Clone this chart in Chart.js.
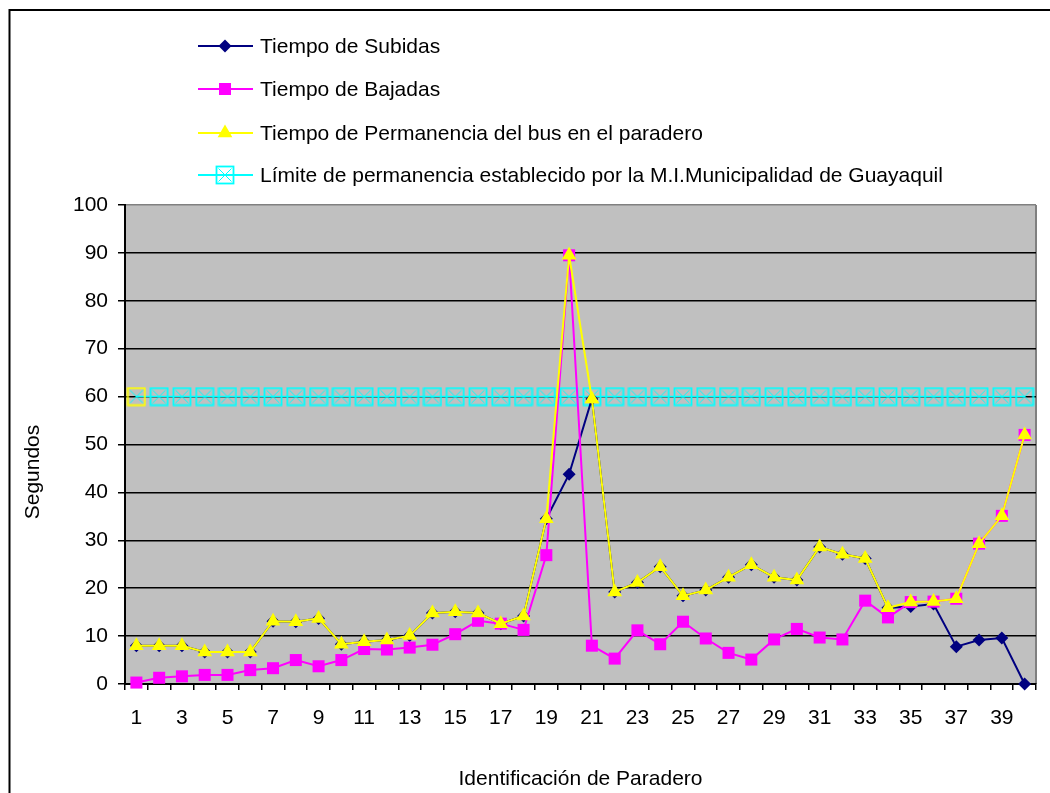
<!DOCTYPE html>
<html>
<head>
<meta charset="utf-8">
<script src="https://cdn.jsdelivr.net/npm/chart.js@4/dist/chart.umd.min.js"></script>
<style>
  body { margin: 0; background: #fff; }
  canvas { display: block; }
</style>
</head>
<body>
<canvas id="myChart" width="1050" height="793"></canvas>
<script>
const paraderos = ['1', '2', '3', '4', '5', '6', '7', '8', '9', '10',
    '11', '12', '13', '14', '15', '16', '17', '18', '19', '20',
    '21', '22', '23', '24', '25', '26', '27', '28', '29', '30',
    '31', '32', '33', '34', '35', '36', '37', '38', '39', '40'];

const subidas = [8.0, 8.0, 8.0, 6.7, 6.7, 6.7, 13.1, 13.0, 13.7, 8.3,
    8.8, 9.2, 10.1, 14.8, 15.1, 14.8, 12.6, 14.2, 34.5, 43.8,
    59.5, 19.2, 21.2, 24.5, 18.4, 19.6, 22.3, 24.9, 22.3, 21.7,
    28.6, 27.1, 26.2, 15.9, 16.2, 16.7, 7.8, 9.2, 9.6, 0];

const bajadas = [0.3, 1.3, 1.6, 1.9, 1.9, 2.9, 3.3, 5.0, 3.7, 5.0,
    7.3, 7.2, 7.6, 8.2, 10.4, 13.2, 12.6, 11.3, 26.9, 89.5,
    8.0, 5.3, 11.2, 8.3, 13.0, 9.5, 6.5, 5.1, 9.3, 11.5,
    9.7, 9.3, 17.4, 13.9, 17.1, 17.2, 17.8, 29.3, 35.1, 52.0];

const permanencia = [8.0, 8.0, 8.0, 6.7, 6.7, 6.7, 13.1, 13.0, 13.7, 8.3,
    8.8, 9.2, 10.1, 14.8, 15.1, 14.8, 12.6, 14.2, 34.5, 89.5,
    59.5, 19.2, 21.2, 24.5, 18.4, 19.6, 22.3, 24.9, 22.3, 21.7,
    28.6, 27.1, 26.2, 15.9, 17.1, 17.2, 17.8, 29.3, 35.1, 52.0];

const limite = [60, 60, 60, 60, 60, 60, 60, 60, 60, 60,
    60, 60, 60, 60, 60, 60, 60, 60, 60, 60,
    60, 60, 60, 60, 60, 60, 60, 60, 60, 60,
    60, 60, 60, 60, 60, 60, 60, 60, 60, 60];

const yTicks = [0, 10, 20, 30, 40, 50, 60, 70, 80, 90, 100];

const FONT = "'Liberation Sans', Arial, sans-serif";
const FSIZE = 21;

// cuadro con X para la serie del limite
function boxX(borderColor) {
    const c = document.createElement('canvas');
    c.width = 20;
    c.height = 20;
    const g = c.getContext('2d');
    g.strokeStyle = borderColor;
    g.lineWidth = 1.8;
    g.strokeRect(1.5, 1.5, 17, 17);
    g.strokeStyle = '#00FFFF';
    g.lineWidth = 1;
    g.beginPath();
    g.moveTo(3.5, 3.5); g.lineTo(16.5, 16.5);
    g.moveTo(16.5, 3.5); g.lineTo(3.5, 16.5);
    g.stroke();
    return c;
}
const boxCyan = boxX('#00FFFF');
const boxYellow = boxX('#FFFF00');

function drawMarker(ctx, style, x, y, r, color) {
    ctx.save();
    ctx.fillStyle = color;
    ctx.strokeStyle = color;
    ctx.beginPath();
    if (style === 'rectRot') {
        ctx.moveTo(x, y - r); ctx.lineTo(x + r, y); ctx.lineTo(x, y + r); ctx.lineTo(x - r, y);
        ctx.closePath(); ctx.fill();
    } else if (style === 'rect') {
        const s = r * Math.SQRT1_2;
        ctx.rect(x - s, y - s, 2 * s, 2 * s); ctx.fill();
    } else if (style === 'triangle') {
        ctx.moveTo(x, y - r);
        ctx.lineTo(x + r * 0.866, y + r / 2);
        ctx.lineTo(x - r * 0.866, y + r / 2);
        ctx.closePath(); ctx.fill();
    } else {
        ctx.drawImage(style, x - style.width / 2, y - style.height / 2);
    }
    ctx.restore();
}

const legendItems = [
    { text: 'Tiempo de Subidas', color: '#000080', style: 'rectRot', r: 6.5, y: 46 },
    { text: 'Tiempo de Bajadas', color: '#FF00FF', style: 'rect', r: 8.5, y: 89 },
    { text: 'Tiempo de Permanencia del bus en el paradero', color: '#FFFF00', style: 'triangle', r: 8.5, y: 133 },
    { text: 'Límite de permanencia establecido por la M.I.Municipalidad de Guayaquil', color: '#00FFFF', style: boxCyan, r: 9, y: 175 }
];

const decoPlugin = {
    id: 'deco',
    beforeDraw(chart) {
        const { ctx, chartArea: a } = chart;
        ctx.save();
        ctx.fillStyle = '#fff';
        ctx.fillRect(0, 0, chart.width, chart.height);
        ctx.fillStyle = '#C0C0C0';
        ctx.fillRect(a.left, a.top, a.right - a.left, a.bottom - a.top);
        ctx.strokeStyle = '#808080';
        ctx.lineWidth = 2;
        ctx.beginPath();
        ctx.moveTo(a.right, a.top);
        ctx.lineTo(a.right, a.bottom);
        ctx.stroke();
        ctx.restore();
    },
    afterDraw(chart) {
        const ctx = chart.ctx;
        ctx.save();
        // marco
        ctx.strokeStyle = '#000';
        ctx.lineWidth = 2;
        ctx.beginPath();
        ctx.moveTo(9.5, chart.height);
        ctx.lineTo(9.5, 10);
        ctx.lineTo(chart.width, 10);
        ctx.stroke();

        // leyenda
        ctx.font = FSIZE + 'px ' + FONT;
        ctx.textBaseline = 'middle';
        ctx.textAlign = 'left';
        legendItems.forEach(item => {
            ctx.strokeStyle = item.color;
            ctx.lineWidth = 2;
            ctx.beginPath();
            ctx.moveTo(198, item.y);
            ctx.lineTo(253, item.y);
            ctx.stroke();
            drawMarker(ctx, item.style, 225, item.y, item.r, item.color);
            ctx.fillStyle = '#000';
            ctx.fillText(item.text, 260, item.y + 1);
        });

        // titulo eje y
        ctx.translate(33, 472);
        ctx.rotate(-Math.PI / 2);
        ctx.textAlign = 'center';
        ctx.fillText('Segundos', 0, 0);
        ctx.restore();
    }
};

const ctx = document.getElementById('myChart').getContext('2d');
const myChart = new Chart(ctx, {
    type: 'line',
    data: {
        labels: paraderos,
        datasets: [{
            label: 'Tiempo de Subidas',
            data: subidas,
            borderColor: '#000080',
            backgroundColor: '#000080',
            borderWidth: 2,
            pointStyle: 'rectRot',
            pointRadius: 6.5,
            pointBorderWidth: 0,
            order: 2,
            clip: false
        }, {
            label: 'Tiempo de Bajadas',
            data: bajadas,
            borderColor: '#FF00FF',
            backgroundColor: '#FF00FF',
            borderWidth: 2,
            pointStyle: 'rect',
            pointRadius: 8.5,
            pointBorderWidth: 0,
            order: 1,
            clip: false
        }, {
            label: 'Tiempo de Permanencia del bus en el paradero',
            data: permanencia,
            borderColor: '#FFFF00',
            backgroundColor: '#FFFF00',
            borderWidth: 2,
            pointStyle: 'triangle',
            pointRadius: 8.5,
            pointBorderWidth: 0,
            order: 0,
            clip: false
        }, {
            label: 'Límite de permanencia establecido por la M.I.Municipalidad de Guayaquil',
            data: limite,
            borderColor: '#00FFFF',
            backgroundColor: 'rgba(0,0,0,0)',
            borderWidth: 1.5,
            pointStyle: (c) => c.dataIndex === 0 ? boxYellow : boxCyan,
            pointRadius: 9,
            order: 3,
            clip: false
        }]
    },
    options: {
        responsive: false,
        animation: false,
        layout: { padding: { top: 205, right: 14, left: 0, bottom: 0 } },
        plugins: {
            legend: { display: false },
            tooltip: { enabled: false }
        },
        scales: {
            x: {
                offset: true,
                grid: {
                    offset: true,
                    drawOnChartArea: false,
                    color: '#000',
                    lineWidth: 1.5,
                    tickLength: 6
                },
                border: { color: '#000', width: 2 },
                ticks: {
                    autoSkip: false,
                    maxRotation: 0,
                    color: '#000',
                    padding: 16,
                    font: { family: FONT, size: FSIZE },
                    callback: (v, i) => i % 2 === 0 ? paraderos[i] : ''
                },
                title: {
                    display: true,
                    text: 'Identificación de Paradero',
                    color: '#000',
                    font: { family: FONT, size: FSIZE },
                    padding: { top: 0, bottom: 1 }
                },
                afterFit: (s) => { s.height = 109; }
            },
            y: {
                min: 0,
                max: 100,
                afterBuildTicks: (s) => { s.ticks = yTicks.map(v => ({ value: v })); },
                grid: {
                    color: (c) => c.tick && c.tick.value === 100 ? '#808080' : '#000',
                    tickColor: '#000',
                    lineWidth: 1.5,
                    tickLength: 7
                },
                border: { color: '#000', width: 2 },
                ticks: {
                    color: '#000',
                    padding: 10,
                    font: { family: FONT, size: FSIZE }
                },
                afterFit: (s) => { s.width = 125; }
            }
        }
    },
    plugins: [decoPlugin]
});
</script>
</body>
</html>
